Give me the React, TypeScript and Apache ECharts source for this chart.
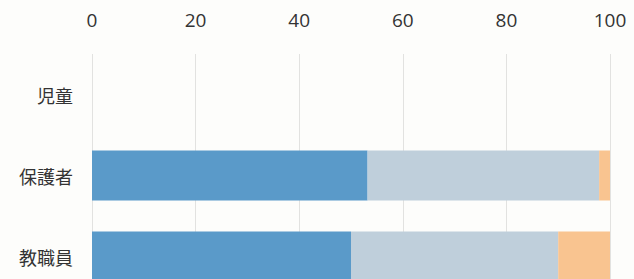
import React, { useEffect, useRef } from "react";
import * as echarts from "echarts";

const categories = ["児童", "保護者", "教職員"];
const seriesA = [null, 53.2, 50.0];
const seriesB = [null, 44.7, 40.0];
const seriesC = [null, 2.1, 10.0];
const colors = ["#5a9ac9", "#bfcfdb", "#f9c490"];

export default function App() {
  const ref = useRef<HTMLDivElement>(null);
  useEffect(() => {
    document.body.style.margin = "0";
    const chart = echarts.init(ref.current!, undefined, { renderer: "svg" });
    const mk = (name: string, data: (number | null)[], color: string) => ({
      name,
      type: "bar",
      stack: "total",
      data,
      barWidth: 50,
      itemStyle: { color },
      silent: true,
    });
    chart.setOption({
      animation: false,
      backgroundColor: "#fdfdfb",
      grid: { left: 92, right: 24, top: 54, height: 243 },
      xAxis: {
        type: "value",
        position: "top",
        min: 0,
        max: 100,
        interval: 20,
        axisLine: { show: false },
        axisTick: { show: false },
        axisLabel: {
          margin: 25,
          fontSize: 19,
          color: "#333",
          fontFamily: "Open Sans",
        },
        splitLine: { show: true, lineStyle: { color: "#e2e2e0", width: 1 } },
      },
      yAxis: {
        type: "category",
        data: categories,
        inverse: true,
        axisLine: { show: false },
        axisTick: { show: false },
        axisLabel: {
          margin: 19,
          fontSize: 18,
          color: "#333",
          fontFamily: "Noto Sans CJK JP",
          padding: [0, 0, 5, 0],
        },
      },
      series: [
        mk("A", seriesA, colors[0]),
        mk("B", seriesB, colors[1]),
        mk("C", seriesC, colors[2]),
      ],
    });
    return () => chart.dispose();
  }, []);
  return (
    <div style={{ position: "fixed", left: 0, top: 0, width: 634, height: 279, overflow: "hidden" }}>
      <div ref={ref} style={{ width: 634, height: 310 }} />
    </div>
  );
}
